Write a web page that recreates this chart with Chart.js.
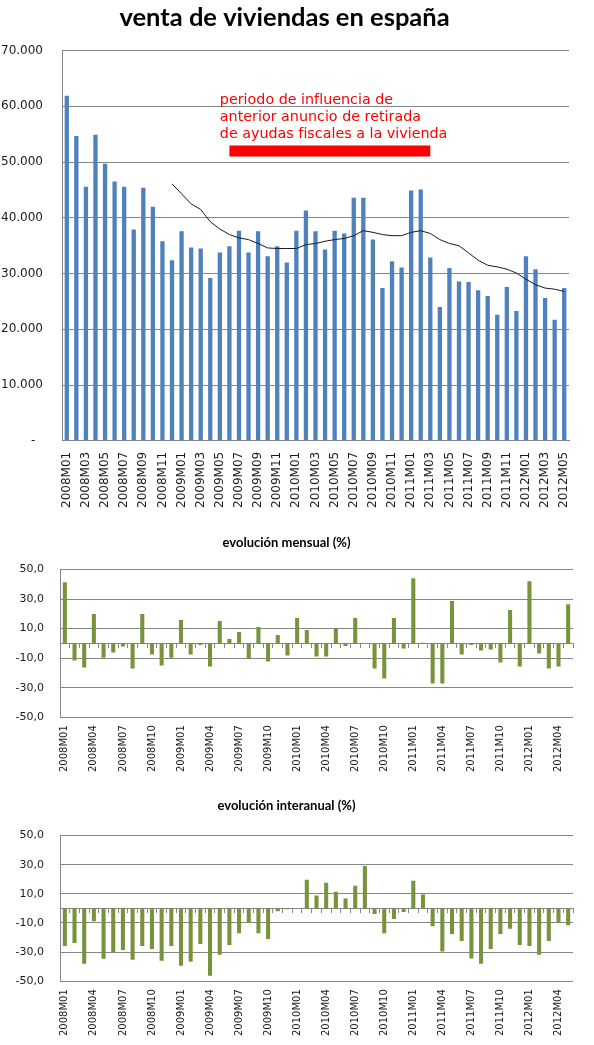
<!DOCTYPE html>
<html lang="es">
<head>
<meta charset="utf-8">
<title>venta de viviendas en españa</title>
<script src="https://cdn.jsdelivr.net/npm/chart.js@4.4.1/dist/chart.umd.min.js"></script>
<style>
  html, body { margin: 0; padding: 0; background: #fff; }
  .panel { position: absolute; left: 0; width: 594px; }
  #p1 { top: 0; height: 520px; }
  #p2 { top: 520px; height: 260px; }
  #p3 { top: 780px; height: 265px; }
</style>
</head>
<body>
<div class="panel" id="p1"><canvas id="ventas"></canvas></div>
<div class="panel" id="p2"><canvas id="mensual"></canvas></div>
<div class="panel" id="p3"><canvas id="interanual"></canvas></div>
<script>
// meses 2008M01 .. 2012M05
const meses = [];
for (let a = 2008; a <= 2012; a++) {
    for (let m = 1; m <= 12; m++) {
        if (a === 2012 && m > 5) break;
        meses.push(a + 'M' + String(m).padStart(2, '0'));
    }
}

// compraventa de viviendas (unidades)
const ventas = [
    61900, 54700, 45600, 54900, 49700, 46500, 45600, 37900, 45400, 42000, 35800, 32400,
    37600, 34700, 34500, 29200, 33800, 34900, 37700, 33800, 37600, 33100, 34900, 32000,
    37700, 41300, 37600, 34300, 37700, 37200, 43600, 43600, 36100, 27400, 32200, 31100,
    44900, 45100, 32900, 24000, 31000, 28600, 28500, 27000, 26000, 22600, 27600, 23300,
    33100, 30800, 25600, 21700, 27400
];

// media móvil de 12 meses (línea negra)
const mediaMovil = [
    null, null, null, null, null, null, null, null, null, null, null, 46100,
    44300, 42500, 41500, 39300, 38000, 37000, 36400, 36100, 35400, 34600, 34500, 34500,
    34500, 35200, 35400, 35800, 36100, 36300, 36800, 37700, 37400, 37000, 36800, 36800,
    37400, 37700, 37200, 36100, 35400, 35000, 33700, 32400, 31500, 31200, 30800, 30100,
    29000, 28000, 27400, 27200, 26800
];

// variación mensual (%)
const varMensual = [
    41.5, -11.6, -16.3, 19.9, -9.8, -6.2, -2.1, -17.0, 19.9, -7.5, -14.9, -9.8,
    15.8, -7.5, -1.0, -15.6, 15.2, 3.0, 7.8, -10.2, 11.1, -12.2, 5.7, -8.2,
    17.2, 9.1, -8.9, -8.9, 10.0, -1.7, 17.2, 0.1, -17.0, -23.7, 17.2, -3.5,
    44.2, 0.4, -27.1, -27.1, 28.7, -7.5, -1.0, -4.8, -4.2, -12.9, 22.6, -15.6,
    42.1, -6.9, -17.0, -15.6, 26.6
];

// variación interanual (%)
const varInteranual = [
    -25.8, -23.8, -38.0, -8.8, -34.6, -29.9, -28.5, -35.3, -25.8, -27.8, -36.0, -25.8,
    -39.4, -36.7, -24.4, -46.2, -31.9, -25.1, -17.0, -10.0, -17.0, -21.0, -2.0, -0.5,
    0.2, 19.7, 8.8, 17.6, 11.5, 6.8, 15.6, 29.2, -3.8, -17.0, -7.2, -2.5,
    19.0, 9.5, -12.2, -29.6, -17.6, -22.4, -34.4, -38.0, -27.8, -17.6, -14.0, -25.1,
    -25.8, -31.9, -22.4, -9.5, -11.5
];

const ticksVentas = [0, 10000, 20000, 30000, 40000, 50000, 60000, 70000];
const ticksVariacion = [-50, -30, -10, 10, 30, 50];

// nota del periodo de influencia
const notaLineas = ['periodo de influencia de', 'anterior anuncio de retirada', 'de ayudas fiscales a la vivienda'];
const periodoInicio = '2009M06';
const periodoFin = '2011M03';
const nivelPeriodo = 52000;
const notaMes = '2009M05';
const notaNivel = 60500;

const gris = '#868686';
const azul = '#4f81bd';
const verde = '#77933c';
const rojo = '#ff0000';

Chart.defaults.font.family = '"DejaVu Sans", Verdana, sans-serif';
Chart.defaults.color = '#1a1a1a';
Chart.defaults.animation = false;

const notaPlugin = {
    id: 'nota',
    afterDatasetsDraw(chart) {
        const { ctx, scales: { x, y } } = chart;
        const left = x.getPixelForValue(meses.indexOf(notaMes));
        const top = y.getPixelForValue(notaNivel);
        ctx.save();
        ctx.fillStyle = rojo;
        ctx.font = '14.3px "DejaVu Sans", Verdana, sans-serif';
        ctx.textAlign = 'left';
        ctx.textBaseline = 'alphabetic';
        notaLineas.forEach((t, i) => ctx.fillText(t, left, top + i * 17.4));
        ctx.restore();
    }
};

new Chart(document.getElementById('ventas'), {
    type: 'bar',
    data: {
        labels: meses,
        datasets: [
            {
                type: 'line',
                data: meses.map(m => (m === periodoInicio || m === periodoFin) ? nivelPeriodo : null),
                borderColor: rojo,
                borderWidth: 11,
                pointRadius: 0,
                spanGaps: true,
                order: 0
            },
            {
                type: 'line',
                data: mediaMovil,
                borderColor: '#1a1a1a',
                borderWidth: 1,
                pointRadius: 0,
                tension: 0,
                order: 1
            },
            {
                data: ventas,
                backgroundColor: azul,
                categoryPercentage: 1,
                barPercentage: 0.45,
                order: 2
            }
        ]
    },
    options: {
        responsive: true,
        maintainAspectRatio: false,
        layout: { padding: { left: 0, right: 25, top: 0, bottom: 1 } },
        plugins: {
            legend: { display: false },
            tooltip: { enabled: false },
            title: {
                display: true,
                text: 'venta de viviendas en españa',
                color: '#000',
                font: { family: 'Lato', size: 25.5, weight: 'bold' },
                padding: { top: 2, bottom: 18 }
            }
        },
        scales: {
            x: {
                grid: { display: false, drawTicks: false },
                border: { display: true, color: gris },
                ticks: {
                    autoSkip: false,
                    minRotation: 90,
                    maxRotation: 90,
                    padding: 11,
                    font: { size: 12 },
                    callback: function (v, i) { return i % 2 === 0 ? this.getLabelForValue(v) : ''; }
                }
            },
            y: {
                min: 0,
                max: 70000,
                afterFit: s => { s.width = 62; },
                afterBuildTicks: s => { s.ticks = ticksVentas.map(v => ({ value: v })); },
                grid: { color: gris, drawTicks: false },
                border: { display: true, color: gris },
                ticks: {
                    padding: 19,
                    font: { size: 12 },
                    callback: v => v === 0 ? '-  ' : (v / 1000) + '.000'
                }
            }
        }
    },
    plugins: [notaPlugin]
});

function crearVariacion(id, titulo, datos, titlePad, bottomPad) {
    new Chart(document.getElementById(id), {
        type: 'bar',
        data: {
            labels: meses,
            datasets: [{
                data: datos,
                backgroundColor: verde,
                categoryPercentage: 1,
                barPercentage: 0.42
            }]
        },
        options: {
            responsive: true,
            maintainAspectRatio: false,
            layout: { padding: { left: 0, right: 21, top: 0, bottom: bottomPad } },
            plugins: {
                legend: { display: false },
                tooltip: { enabled: false },
                title: {
                    display: true,
                    text: titulo,
                    color: '#000',
                    font: { family: 'Lato', size: 13, weight: 'bold' },
                    padding: titlePad
                }
            },
            scales: {
                x: {
                    grid: { display: false, drawTicks: false },
                    border: { display: false },
                    ticks: {
                        autoSkip: false,
                        minRotation: 90,
                        maxRotation: 90,
                        padding: 8,
                        font: { size: 10 },
                        callback: function (v, i) { return i % 3 === 0 ? this.getLabelForValue(v) : ''; }
                    }
                },
                // eje en el cero con marcas entre meses
                cero: {
                    type: 'category',
                    axis: 'x',
                    position: { y: 0 },
                    offset: true,
                    grid: { offset: true, drawOnChartArea: false, drawTicks: true, tickLength: 4, color: gris },
                    border: { display: true, color: gris },
                    ticks: { display: false, autoSkip: false }
                },
                y: {
                    min: -50,
                    max: 50,
                    afterFit: s => { s.width = 60; },
                    afterBuildTicks: s => { s.ticks = ticksVariacion.map(v => ({ value: v })); },
                    grid: { color: gris, drawTicks: false },
                    border: { display: true, color: gris },
                    ticks: {
                        padding: 16,
                        font: { size: 11 },
                        callback: v => v.toFixed(1).replace('.', ',')
                    }
                }
            }
        }
    });
}

crearVariacion('mensual', 'evolución mensual (%)', varMensual, { top: 15, bottom: 19 }, 0);
crearVariacion('interanual', 'evolución interanual (%)', varInteranual, { top: 18, bottom: 22 }, 1);
</script>
</body>
</html>
